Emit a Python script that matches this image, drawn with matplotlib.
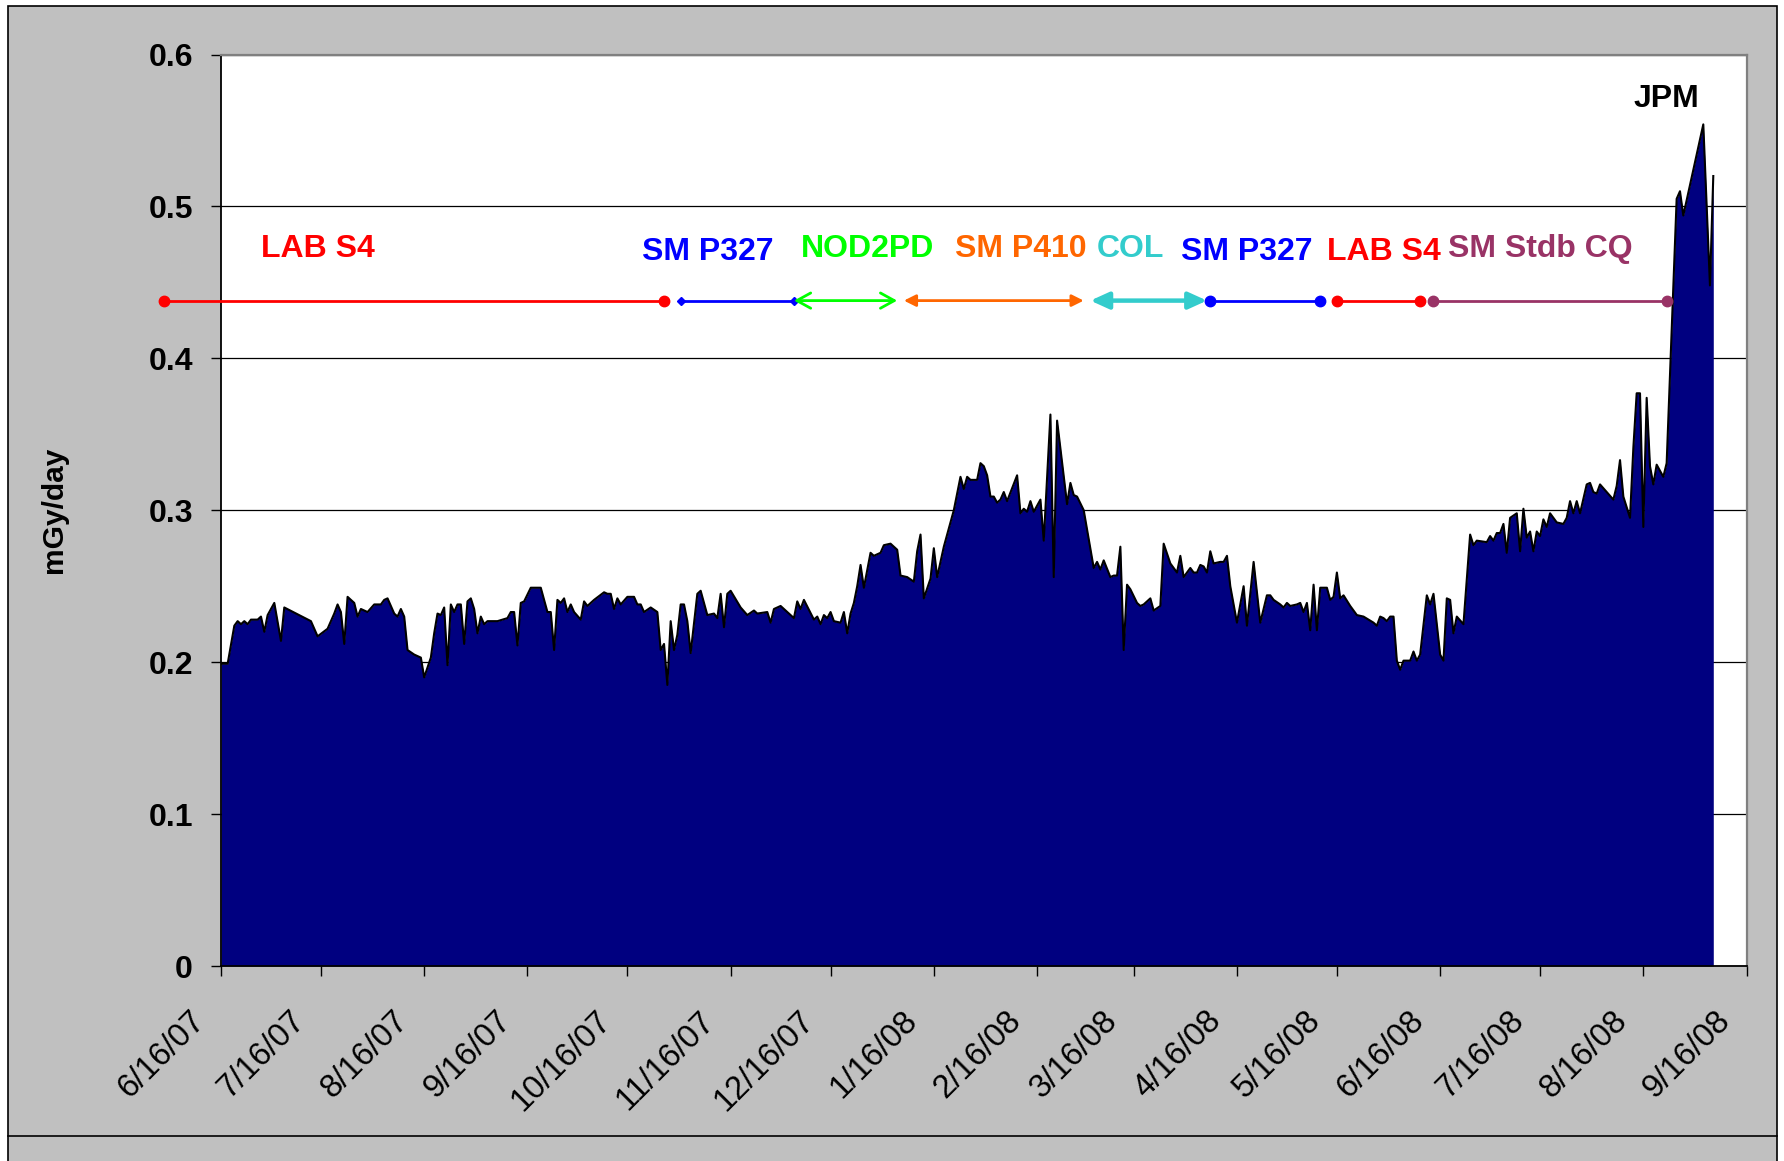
import matplotlib.pyplot as plt
import matplotlib.dates as mdates
import matplotlib.transforms as mtransforms
from matplotlib.patches import Rectangle
from matplotlib.lines import Line2D
import pandas as pd

plt.rcParams['font.family'] = ['Liberation Sans', 'DejaVu Sans']

#================================================
#               DATA
#================================================

START = pd.Timestamp('2007-06-16')
END = pd.Timestamp('2008-09-16')

# days after 6/16/07
day = [0, 2, 4, 5, 6, 7, 8, 9, 11, 12, 13, 14, 16, 18, 19, 27, 29, 32, 34, 35,
       36, 37, 38, 40, 41, 42, 44, 46, 48, 49, 50, 52, 53, 54, 55, 56, 58, 60, 61, 63,
       64, 65, 66, 67, 68, 69, 70, 71, 72, 73, 74, 75, 76, 77, 78, 79, 80, 83, 86, 87,
       88, 89, 90, 91, 93, 96, 97, 98, 99, 100, 101, 102, 103, 104, 105, 106, 108, 109, 110, 112,
       115, 116, 117, 118, 119, 120, 122, 124, 125, 126, 127, 129, 131, 132, 133, 134, 135, 136, 137, 138,
       139, 140, 141, 143, 144, 146, 148, 149, 150, 151, 152, 153, 156, 158, 160, 161, 164, 165, 166, 168,
       172, 173, 174, 175, 178, 179, 180, 181, 182, 183, 184, 186, 187, 188, 189, 190, 191, 192, 193, 195,
       196, 198, 199, 201, 203, 204, 206, 208, 209, 210, 211, 213, 214, 215, 217, 220, 222, 223, 224, 225,
       227, 228, 229, 230, 231, 232, 233, 234, 235, 236, 239, 240, 241, 242, 243, 244, 246, 247, 249, 250,
       251, 254, 255, 256, 257, 259, 262, 263, 264, 265, 267, 268, 269, 270, 271, 272, 273, 275, 276, 277,
       279, 280, 282, 283, 285, 287, 288, 289, 291, 292, 293, 294, 295, 296, 297, 298, 300, 301, 302, 303,
       305, 307, 308, 310, 312, 314, 315, 316, 318, 319, 320, 321, 323, 324, 325, 326, 327, 328, 329, 330,
       332, 333, 334, 335, 336, 337, 339, 341, 343, 346, 347, 348, 349, 350, 351, 352, 353, 354, 355, 357,
       358, 359, 360, 362, 363, 364, 366, 367, 368, 369, 370, 371, 373, 375, 376, 377, 380, 381, 382, 383,
       384, 385, 386, 387, 389, 390, 391, 392, 393, 394, 395, 396, 397, 398, 399, 401, 403, 404, 405, 406,
       407, 408, 410, 411, 412, 413, 414, 418, 419, 420, 421, 423, 424, 425, 426, 427, 428, 429, 430, 431,
       433, 434, 437, 438, 439, 445, 447, 448]

# mGy/day
dose = [0.199, 0.199, 0.224, 0.227, 0.225, 0.227, 0.225, 0.228, 0.228, 0.230, 0.220, 0.231, 0.239, 0.214, 0.236, 0.227, 0.217, 0.222, 0.232, 0.238,
        0.233, 0.212, 0.243, 0.239, 0.230, 0.235, 0.233, 0.238, 0.238, 0.241, 0.242, 0.232, 0.230, 0.235, 0.230, 0.208, 0.205, 0.203, 0.190, 0.203,
        0.219, 0.232, 0.231, 0.236, 0.198, 0.238, 0.233, 0.238, 0.238, 0.212, 0.240, 0.242, 0.235, 0.219, 0.230, 0.225, 0.227, 0.227, 0.229, 0.233,
        0.233, 0.211, 0.239, 0.240, 0.249, 0.249, 0.241, 0.233, 0.233, 0.208, 0.241, 0.239, 0.242, 0.233, 0.238, 0.233, 0.228, 0.240, 0.237, 0.241,
        0.246, 0.245, 0.245, 0.235, 0.242, 0.238, 0.243, 0.243, 0.238, 0.238, 0.233, 0.236, 0.233, 0.208, 0.212, 0.185, 0.227, 0.208, 0.218, 0.238,
        0.238, 0.227, 0.206, 0.245, 0.247, 0.231, 0.232, 0.229, 0.245, 0.223, 0.245, 0.247, 0.236, 0.231, 0.234, 0.232, 0.233, 0.226, 0.235, 0.237,
        0.229, 0.240, 0.235, 0.241, 0.228, 0.230, 0.225, 0.231, 0.229, 0.233, 0.227, 0.226, 0.233, 0.219, 0.232, 0.239, 0.250, 0.264, 0.249, 0.272,
        0.270, 0.272, 0.277, 0.278, 0.274, 0.257, 0.256, 0.253, 0.273, 0.284, 0.242, 0.255, 0.275, 0.256, 0.276, 0.300, 0.322, 0.314, 0.322, 0.320,
        0.320, 0.331, 0.329, 0.323, 0.309, 0.309, 0.305, 0.307, 0.312, 0.306, 0.323, 0.298, 0.301, 0.299, 0.306, 0.299, 0.307, 0.280, 0.363, 0.256,
        0.359, 0.304, 0.318, 0.310, 0.309, 0.300, 0.262, 0.266, 0.261, 0.267, 0.256, 0.257, 0.257, 0.276, 0.208, 0.251, 0.248, 0.239, 0.237, 0.238,
        0.242, 0.234, 0.237, 0.278, 0.265, 0.259, 0.270, 0.256, 0.262, 0.259, 0.259, 0.264, 0.263, 0.259, 0.273, 0.265, 0.266, 0.266, 0.270, 0.250,
        0.226, 0.250, 0.224, 0.266, 0.226, 0.244, 0.244, 0.241, 0.238, 0.236, 0.239, 0.237, 0.238, 0.239, 0.233, 0.239, 0.221, 0.251, 0.221, 0.249,
        0.249, 0.241, 0.243, 0.259, 0.242, 0.244, 0.237, 0.231, 0.230, 0.226, 0.224, 0.230, 0.229, 0.227, 0.230, 0.230, 0.201, 0.195, 0.201, 0.201,
        0.207, 0.201, 0.205, 0.244, 0.238, 0.245, 0.205, 0.201, 0.242, 0.241, 0.219, 0.230, 0.225, 0.284, 0.277, 0.280, 0.279, 0.283, 0.280, 0.285,
        0.285, 0.291, 0.272, 0.295, 0.298, 0.273, 0.301, 0.282, 0.286, 0.273, 0.286, 0.283, 0.294, 0.289, 0.298, 0.292, 0.291, 0.295, 0.306, 0.298,
        0.306, 0.298, 0.317, 0.318, 0.312, 0.311, 0.317, 0.307, 0.316, 0.333, 0.309, 0.295, 0.341, 0.377, 0.377, 0.289, 0.374, 0.329, 0.317, 0.330,
        0.322, 0.331, 0.505, 0.510, 0.494, 0.554, 0.448, 0.520]

# location periods drawn as bars above the data
seg_names = ['LAB S4', 'SM P327', 'NOD2PD', 'SM P410', 'COL', 'SM P327', 'LAB S4', 'SM Stdb CQ']
seg_start = ['2007-05-30', '2007-11-01', '2007-12-05', '2008-01-07', '2008-03-03', '2008-04-08', '2008-05-16', '2008-06-14']
seg_end = ['2007-10-27', '2007-12-05', '2008-01-05', '2008-03-01', '2008-04-07', '2008-05-11', '2008-06-10', '2008-08-23']
seg_colors = ['#FF0000', '#0000FF', '#00FF00', '#FF6600', '#33CCCC', '#0000FF', '#FF0000', '#993366']
seg_ends = ['o', 'D', 'open', 'filled', 'big', 'o', 'o', 'o']
SEG_Y = 0.438

label_dates = ['2007-07-15', '2007-11-09', '2007-12-27', '2008-02-11', '2008-03-15', '2008-04-19', '2008-05-30', '2008-07-16']
label_y = [0.472, 0.470, 0.472, 0.472, 0.472, 0.470, 0.470, 0.472]

jpm_date = '2008-08-23'
jpm_y = 0.571

W, H = 1784, 1161

#================================================
#               FIGURE
#================================================

fig = plt.figure(figsize=(W / 100, H / 100), dpi=100)
fig.patch.set_facecolor('white')

# grey chart area with black frame
fig.patches.append(Rectangle((8 / W, -0.05), (1776.5 - 8) / W, 1.05 - 6 / H,
                             transform=fig.transFigure, facecolor='#C0C0C0',
                             edgecolor='black', lw=1.2, zorder=-10))
fig.lines.append(Line2D([8 / W, 1776.5 / W], [1 - 1136 / H] * 2,
                        transform=fig.transFigure, color='black', lw=1.2))

ax = fig.add_axes([221 / W, 1 - 966 / H, (1746.6 - 221) / W, (966 - 54.5) / H])
ax.set_facecolor('white')

x = mdates.date2num(START + pd.to_timedelta(day, unit='D'))
ax.fill_between(x, dose, 0, color='#000080', lw=0, zorder=2)
ax.plot(x, dose, color='black', lw=1.5, zorder=3)

ax.set_xlim(mdates.date2num(START), mdates.date2num(END))
ax.set_ylim(0, 0.6)

# ticks
tick_dates = pd.date_range(START, END, freq=pd.DateOffset(months=1))
tick_labels = [f'{d.month}/{d.day}/{d:%y}' for d in tick_dates]
ax.set_xticks(mdates.date2num(tick_dates))
ax.set_xticklabels(tick_labels, rotation=45, ha='right', va='center',
                   rotation_mode='anchor', fontsize=23.5)
yt = [0, 0.1, 0.2, 0.3, 0.4, 0.5, 0.6]
ax.set_yticks(yt)
ax.set_yticklabels(['0', '0.1', '0.2', '0.3', '0.4', '0.5', '0.6'],
                   fontsize=23, fontweight='bold')
ax.tick_params(axis='x', direction='out', length=7.2, width=1, pad=29)
ax.tick_params(axis='y', direction='out', length=7.2, width=1, pad=13)

shift = mtransforms.ScaledTranslation(-0.21, 0, fig.dpi_scale_trans)
for t in ax.xaxis.get_major_ticks():
    t.label1.set_transform(t.label1.get_transform() + shift)

ax.set_ylabel('mGy/day', fontsize=21.5, fontweight='bold')
ax.yaxis.set_label_coords((68.5 - 221) / (1746.6 - 221), 0.5)

ax.yaxis.grid(True, color='black', lw=0.9)
ax.set_axisbelow(True)
for s in ['top', 'right']:
    ax.spines[s].set_color('#808080')
    ax.spines[s].set_linewidth(1.6)
for s in ['left', 'bottom']:
    ax.spines[s].set_color('black')
    ax.spines[s].set_linewidth(1.3)

#================================================
#               PERIOD BARS
#================================================

for name, d1, d2, c, kind in zip(seg_names, seg_start, seg_end, seg_colors, seg_ends):
    x1 = mdates.date2num(pd.Timestamp(d1))
    x2 = mdates.date2num(pd.Timestamp(d2))
    if kind == 'o':
        ax.plot([x1, x2], [SEG_Y, SEG_Y], color=c, lw=2, marker='o', ms=7.5,
                clip_on=False, zorder=5)
    elif kind == 'D':
        ax.plot([x1, x2], [SEG_Y, SEG_Y], color=c, lw=2, marker='D', ms=4.5,
                clip_on=False, zorder=5)
    else:
        if kind == 'open':
            style, lw = '<->,head_length=1.0,head_width=0.55', 2
        elif kind == 'filled':
            style, lw = '<|-|>,head_length=0.7,head_width=0.35', 2
        else:
            style, lw = '<|-|>,head_length=1.1,head_width=0.5', 3.2
        ax.annotate('', xy=(x2, SEG_Y), xytext=(x1, SEG_Y),
                    arrowprops=dict(arrowstyle=style, color=c, lw=lw,
                                    mutation_scale=10, shrinkA=0, shrinkB=0),
                    zorder=5)

for name, d, yv, c in zip(seg_names, label_dates, label_y, seg_colors):
    ax.text(mdates.date2num(pd.Timestamp(d)), yv, name, color=c, fontsize=23,
            fontweight='bold', ha='center', va='center', zorder=6)

ax.text(mdates.date2num(pd.Timestamp(jpm_date)), jpm_y, 'JPM', color='black',
        fontsize=23, fontweight='bold', ha='center', va='center', zorder=6)

fig.savefig('out.png', dpi=100, facecolor=fig.get_facecolor())
